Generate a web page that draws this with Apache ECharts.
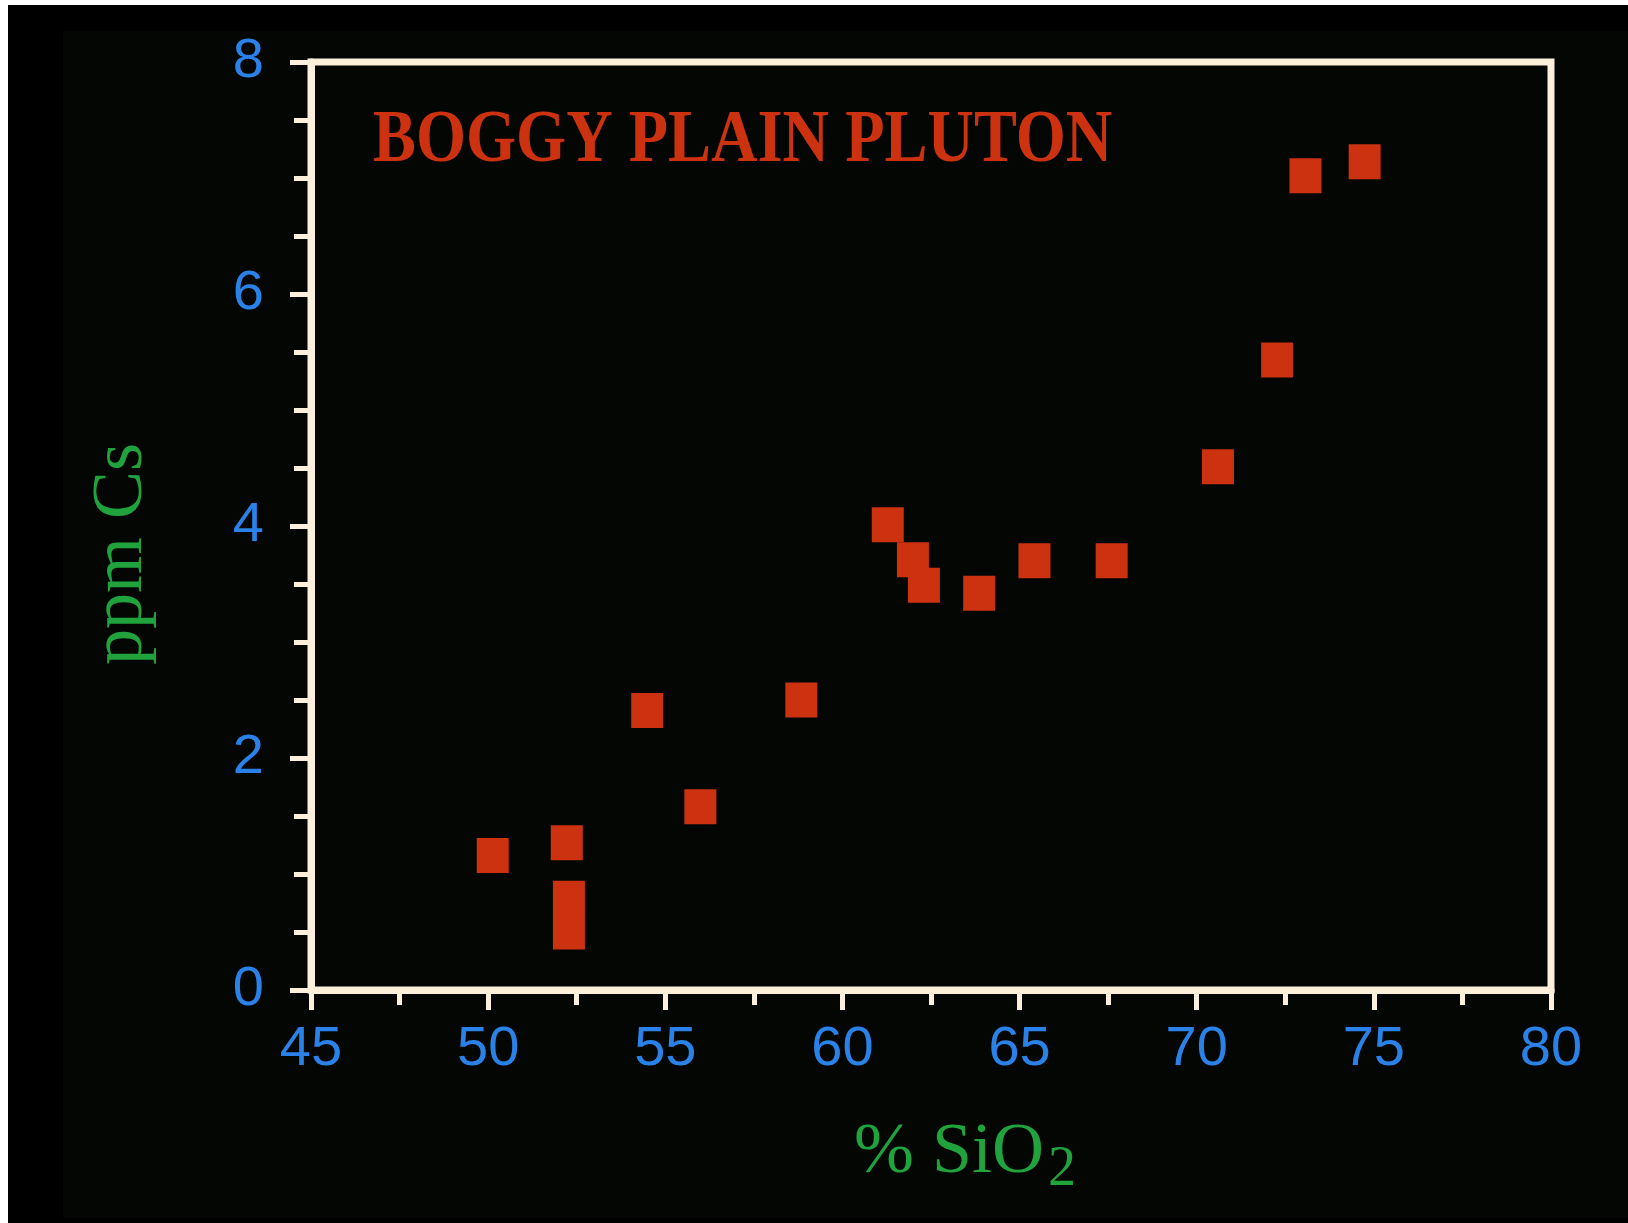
<!DOCTYPE html>
<html>
<head>
<meta charset="utf-8">
<title>Boggy Plain Pluton — Cs vs SiO2</title>
<script src="https://cdn.jsdelivr.net/npm/echarts@6/dist/echarts.min.js"></script>
<style>
  html, body { margin: 0; padding: 0; background: #000; }
  #chart { width: 1628px; height: 1223px; }
</style>
</head>
<body>
<div id="chart"></div>
<script>
// Whole-rock analyses: silica (wt %) against caesium (ppm)
const siO2 = [50.13, 52.22, 52.28, 52.28, 54.49, 55.99, 58.84, 61.28, 61.99, 62.30, 63.86, 65.42, 67.60, 70.60, 72.27, 73.07, 74.74];
const csPpm = [1.16, 1.27, 0.79, 0.50, 2.41, 1.58, 2.50, 4.01, 3.71, 3.49, 3.42, 3.70, 3.70, 4.51, 5.43, 7.02, 7.14];

const xTicks = { min: 45, max: 80, interval: 5 };
const yTicks = { min: 0, max: 8, interval: 2 };

const titleText = 'BOGGY PLAIN PLUTON';
const xName = '% SiO{sub|2}';
const yName = 'ppm Cs';

const points = siO2.map((x, i) => [x, csPpm[i]]);

const frame = '#fcefdb';
const blue = '#2a82e8';
const green = '#20a23c';
const red = '#cc3110';

const chart = echarts.init(document.getElementById('chart'));
chart.setOption({
  backgroundColor: '#000',
  animation: false,
  graphic: [
    { type: 'rect', silent: true, z: -10, shape: { x: 0, y: 0, width: 8, height: 1223 }, style: { fill: '#ffffff' } },
    { type: 'rect', silent: true, z: -10, shape: { x: 0, y: 0, width: 1628, height: 5 }, style: { fill: '#ffffff' } },
    { type: 'rect', silent: true, z: -10, shape: { x: 63, y: 31, width: 1565, height: 1187 }, style: { fill: '#030603' } },
    {
      type: 'text', silent: true, z: 10,
      x: 373, y: 105, scaleX: 0.87,
      style: {
        text: titleText,
        font: 'bold 74px "Liberation Serif", "DejaVu Serif", serif',
        fill: red
      }
    }
  ],
  grid: {
    left: 311, top: 62, right: 77, bottom: 233,
    show: true,
    borderColor: frame,
    borderWidth: 7,
    backgroundColor: 'transparent',
    containLabel: false,
    outerBoundsMode: 'none'
  },
  xAxis: {
    type: 'value',
    min: xTicks.min, max: xTicks.max, interval: xTicks.interval,
    name: xName,
    nameLocation: 'middle',
    nameGap: 118,
    nameTextStyle: {
      fontFamily: '"Liberation Serif", "DejaVu Serif", serif',
      fontSize: 72,
      color: green,
      padding: [0, 0, 0, 68],
      rich: {
        sub: {
          fontFamily: '"Liberation Serif", "DejaVu Serif", serif',
          fontSize: 56,
          color: green,
          padding: [34, 0, 0, 4]
        }
      }
    },
    axisLine: { show: true, lineStyle: { color: frame, width: 7 } },
    axisTick: { show: true, length: 20, lineStyle: { color: frame, width: 5 } },
    minorTick: { show: true, splitNumber: 2, length: 15, lineStyle: { color: frame, width: 5 } },
    splitLine: { show: false },
    axisLabel: {
      margin: 32,
      color: blue,
      fontSize: 56,
      fontFamily: '"Liberation Sans Narrow", "Liberation Sans", sans-serif'
    }
  },
  yAxis: {
    type: 'value',
    min: yTicks.min, max: yTicks.max, interval: yTicks.interval,
    name: yName,
    nameLocation: 'middle',
    nameGap: 153,
    nameTextStyle: {
      fontFamily: '"Liberation Serif", "DejaVu Serif", serif',
      fontSize: 72,
      color: green,
      padding: [0, 56, 0, 0]
    },
    axisLine: { show: true, lineStyle: { color: frame, width: 7 } },
    axisTick: { show: true, length: 21, lineStyle: { color: frame, width: 5 } },
    minorTick: { show: true, splitNumber: 4, length: 17, lineStyle: { color: frame, width: 5 } },
    splitLine: { show: false },
    axisLabel: {
      margin: 47,
      color: blue,
      fontSize: 56,
      fontFamily: '"Liberation Sans Narrow", "Liberation Sans", sans-serif'
    }
  },
  series: [{
    type: 'scatter',
    data: points,
    symbol: 'rect',
    symbolSize: [32, 35],
    itemStyle: { color: red, opacity: 1 },
    z: 5
  }]
});
</script>
</body>
</html>
